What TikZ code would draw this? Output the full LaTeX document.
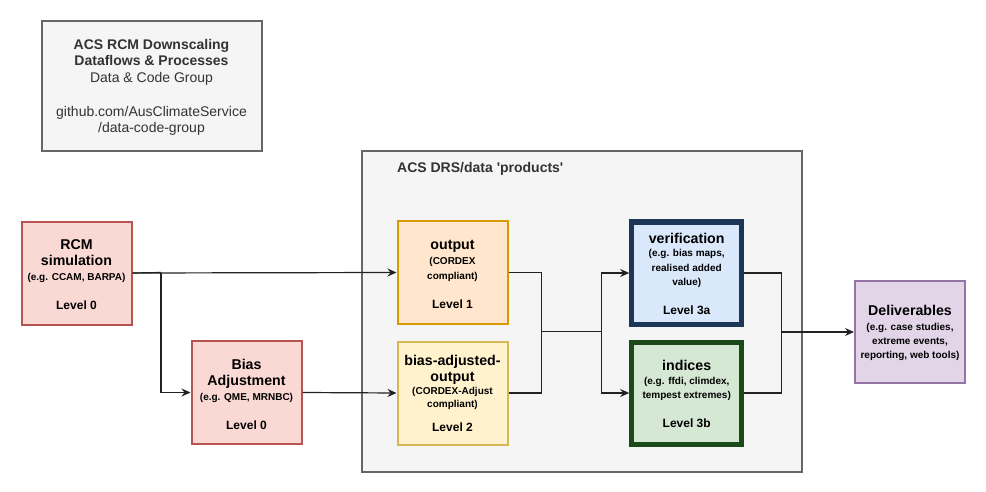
\documentclass[tikz,border=0pt]{standalone}
\usepackage{fontspec}
\setmainfont[Ligatures=TeXOff]{Liberation Sans}
\usetikzlibrary{arrows.meta,calc}
\definecolor{boxgray}{HTML}{F5F5F5}
\definecolor{linegray}{HTML}{666666}
\definecolor{txtgray}{HTML}{333333}
\definecolor{redfill}{HTML}{FAD9D5}
\definecolor{redline}{HTML}{B85450}
\definecolor{orfill}{HTML}{FFE6CC}
\definecolor{orline}{HTML}{D79B00}
\definecolor{yefill}{HTML}{FFF2CC}
\definecolor{yeline}{HTML}{D6B656}
\definecolor{blfill}{HTML}{DAE8FC}
\definecolor{blline}{HTML}{1D3557}
\definecolor{grfill}{HTML}{D5E8D4}
\definecolor{grline}{HTML}{1A4A1A}
\definecolor{pufill}{HTML}{E1D5E7}
\definecolor{puline}{HTML}{9673A6}
\definecolor{edgecol}{HTML}{222222}
\tikzset{
  x=1pt,y=-1pt,
  boxshape/.style={rectangle,inner sep=0pt,minimum width=110pt,minimum height=103pt,line width=2pt},
  ttl/.style={anchor=base,font=\fontsize{14.2}{16}\selectfont\bfseries,inner sep=0pt},
  sml/.style={anchor=base,font=\fontsize{10}{12}\selectfont\bfseries,inner sep=0pt},
  lvl/.style={anchor=base,font=\fontsize{12}{14}\selectfont\bfseries,inner sep=0pt},
  hdr/.style={anchor=base,font=\fontsize{14}{16}\selectfont,text=txtgray,inner sep=0pt},
  edge/.style={draw=edgecol,line width=1.2pt},
  arr/.style={edge,-{Stealth[length=9pt,width=8pt,inset=3pt]}}
}
\begin{document}
\begin{tikzpicture}
\useasboundingbox (0,0) rectangle (986,492);
% title box
\node[rectangle,draw=linegray,fill=boxgray,line width=2pt,minimum width=220pt,minimum height=130pt,inner sep=0pt] (title) at (151.5,86.5) {};
\node[hdr,font=\fontsize{14}{16}\selectfont\bfseries] (t1) at (151.5,50) {ACS RCM Downscaling};
\node[hdr,font=\fontsize{14}{16}\selectfont\bfseries] (t2) at (151.5,66) {Dataflows \& Processes};
\node[hdr] (t3) at (151.5,83) {Data \& Code Group};
\node[hdr] (t4) at (151.5,117) {github.com/AusClimateService};
\node[hdr] (t5) at (151.5,133) {/data-code-group};
% products container
\node[rectangle,draw=linegray,fill=boxgray,line width=2pt,minimum width=440pt,minimum height=320pt,inner sep=0pt] (prod) at (581.5,311.5) {};
\node[hdr,font=\fontsize{14}{16}\selectfont\bfseries,anchor=base west] (prodlbl) at (397,172.5) {ACS DRS/data 'products'};
% RCM
\node[boxshape,draw=redline,fill=redfill] (rcm) at (76.5,273) {};
\node[ttl] (rcm1) at (76.5,249.3) {RCM};
\node[ttl] (rcm2) at (76.5,265) {simulation};
\node[sml] (rcm3) at (76.5,280) {(e.g. CCAM, BARPA)};
\node[lvl] (rcm4) at (76.5,309.3) {Level 0};
% Bias adjustment
\node[boxshape,draw=redline,fill=redfill] (bias) at (246.5,392.5) {};
\node[ttl] (bias1) at (246.5,369.3) {Bias};
\node[ttl] (bias2) at (246.5,385) {Adjustment};
\node[sml] (bias3) at (246.5,400) {(e.g. QME, MRNBC)};
\node[lvl] (bias4) at (246.5,429) {Level 0};
% output
\node[boxshape,draw=orline,fill=orfill] (out) at (452.5,272.5) {};
\node[ttl] (out1) at (452.5,249.3) {output};
\node[sml] (out2) at (452.5,264) {(CORDEX};
\node[sml] (out3) at (452.5,279.3) {compliant)};
\node[lvl] (out4) at (452.5,308) {Level 1};
% bias-adjusted-output
\node[boxshape,draw=yeline,fill=yefill] (badj) at (452.5,393) {};
\node[ttl] (badj1) at (452.5,365) {bias-adjusted-};
\node[ttl] (badj2) at (452.5,381.7) {output};
\node[sml] (badj3) at (452.5,394.3) {(CORDEX-Adjust};
\node[sml] (badj4) at (452.5,407.3) {compliant)};
\node[lvl] (badj5) at (452.5,431.7) {Level 2};
% verification
\node[boxshape,draw=blline,fill=blfill,line width=5pt,minimum width=110pt,minimum height=102pt] (ver) at (686.7,273) {};
\node[ttl] (ver1) at (686.7,243.3) {verification};
\node[sml] (ver2) at (686.7,256.7) {(e.g. bias maps,};
\node[sml] (ver3) at (686.7,271.5) {realised added};
\node[sml] (ver4) at (686.7,285.7) {value)};
\node[lvl] (ver5) at (686.7,314.3) {Level 3a};
% indices
\node[boxshape,draw=grline,fill=grfill,line width=5pt,minimum width=110pt,minimum height=102pt] (ind) at (686.7,393) {};
\node[ttl] (ind1) at (686.7,370.7) {indices};
\node[sml] (ind2) at (686.7,384) {(e.g. ffdi, climdex,};
\node[sml] (ind3) at (686.7,398.3) {tempest extremes)};
\node[lvl] (ind4) at (686.7,427.3) {Level 3b};
% deliverables
\node[boxshape,draw=puline,fill=pufill,minimum height=102pt] (del) at (910,332) {};
\node[ttl] (del1) at (910,315.3) {Deliverables};
\node[sml] (del2) at (910,330.7) {(e.g. case studies,};
\node[sml] (del3) at (910,344.7) {extreme events,};
\node[sml] (del4) at (910,358.7) {reporting, web tools)};
% junction coordinates
\coordinate (jrb) at (161,272.5);
\coordinate (jl) at (541.7,331.7);
\coordinate (jr) at (601.5,331.7);
\coordinate (jd) at (781.7,332);
% connectors
\draw[arr] (rcm.east) -- (out.west);
\draw[arr] (rcm.east -| jrb) |- (bias.west);
\draw[edge] (rcm.east) -- (jrb);
\draw[arr] (bias.east) -- (badj.west);
\draw[edge] (out.east) -| (jl);
\draw[edge] (badj.east) -| (jl);
\draw[edge] (jl) -- (jr);
\draw[arr] (jr) |- (ver.west);
\draw[arr] (jr) |- (ind.west);
\draw[edge] (ver.east) -| (jd);
\draw[edge] (ind.east) -| (jd);
\draw[arr] (jd) -- (del.west);
\end{tikzpicture}
\end{document}
